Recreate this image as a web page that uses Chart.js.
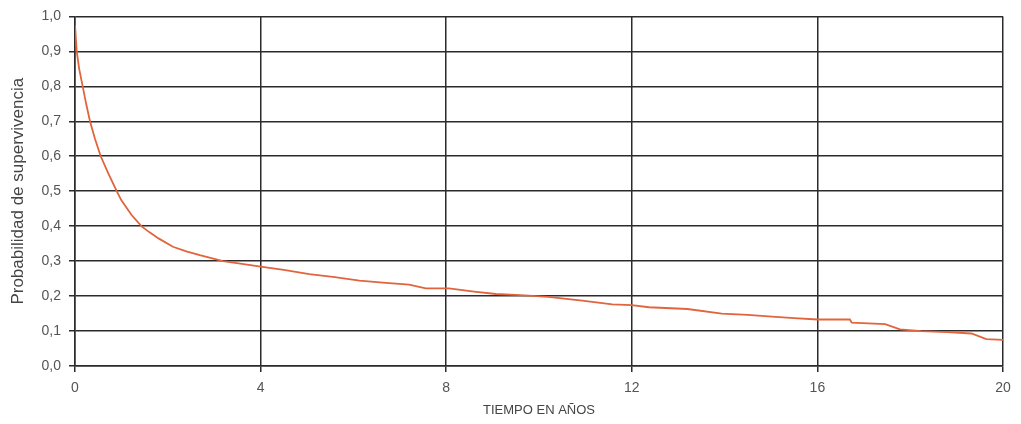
<!DOCTYPE html>
<html>
<head>
<meta charset="utf-8">
<script src="https://cdn.jsdelivr.net/npm/chart.js@4/dist/chart.umd.min.js"></script>
<style>
  html, body { margin: 0; padding: 0; background: #ffffff; }
  #wrap { width: 1021px; height: 424px; position: relative; }
</style>
</head>
<body>
<div id="wrap"><canvas id="c"></canvas></div>
<script>
// Survival curve: time in years and survival probability
const years = [0, 0.037, 0.09, 0.166, 0.24, 0.323, 0.43, 0.554, 0.72, 0.899, 1.0, 1.1, 1.22, 1.43, 1.6, 1.8, 2.11, 2.4, 2.69, 3.19, 3.6, 4.0, 4.5, 5.05, 5.6, 6.13, 6.7, 7.2, 7.56, 8.06, 8.6, 9.07, 9.6, 10.2, 10.93, 11.58, 12.0, 12.37, 13.2, 13.94, 14.5, 15.02, 15.5, 16.0, 16.7, 16.74, 17.46, 17.78, 18.24, 18.8, 19.32, 19.64, 20.0];
const survival = [0.975, 0.9, 0.85, 0.8, 0.75, 0.7, 0.65, 0.6, 0.55, 0.5, 0.474, 0.455, 0.432, 0.4, 0.383, 0.365, 0.341, 0.328, 0.317, 0.3, 0.292, 0.284, 0.275, 0.263, 0.254, 0.244, 0.238, 0.233, 0.222, 0.222, 0.213, 0.206, 0.203, 0.198, 0.187, 0.176, 0.174, 0.168, 0.163, 0.15, 0.146, 0.141, 0.137, 0.133, 0.133, 0.124, 0.12, 0.105, 0.1, 0.097, 0.093, 0.077, 0.075];
const xTicks = [0, 4, 8, 12, 16, 20];
const yTitle = 'Probabilidad de supervivencia';
const xTitle = 'TIEMPO EN AÑOS';

const points = years.map((t, i) => ({ x: t, y: survival[i] }));
const gridColor = '#2b2b2b';
const labelColor = '#555555';
const fontFamily = 'Liberation Sans, Arial, sans-serif';

new Chart(document.getElementById('c'), {
  type: 'line',
  data: {
    datasets: [{
      data: points,
      borderColor: '#e2643c',
      borderWidth: 1.8,
      pointRadius: 0,
      tension: 0,
      fill: false
    }]
  },
  options: {
    responsive: true,
    maintainAspectRatio: false,
    animation: false,
    layout: { padding: { top: 16, right: 18, left: 0, bottom: 0 } },
    plugins: { legend: { display: false }, tooltip: { enabled: false } },
    scales: {
      x: {
        type: 'linear',
        min: 0,
        max: 20,
        afterBuildTicks: s => { s.ticks = xTicks.map(v => ({ value: v })); },
        afterFit: s => { s.height = 58; },
        grid: { color: gridColor, lineWidth: 1.5, tickLength: 6, drawTicks: true },
        border: { color: gridColor, width: 1.5 },
        ticks: {
          color: labelColor,
          font: { family: fontFamily, size: 14 },
          padding: 8,
          maxRotation: 0
        },
        title: {
          display: true,
          text: xTitle,
          color: '#444444',
          font: { family: fontFamily, size: 13 },
          padding: { top: 0, bottom: 6 }
        }
      },
      y: {
        type: 'linear',
        min: 0,
        max: 1,
        ticks: {
          stepSize: 0.1,
          color: labelColor,
          font: { family: fontFamily, size: 14 },
          padding: 8,
          callback: v => v.toFixed(1).replace('.', ',')
        },
        afterFit: s => { s.width = 75; },
        grid: { color: gridColor, lineWidth: 1.5, tickLength: 6 },
        border: { color: gridColor, width: 1.5 },
        title: {
          display: true,
          text: yTitle,
          color: '#444444',
          font: { family: fontFamily, size: 17 },
          padding: { top: 8, bottom: 0 }
        }
      }
    }
  }
});
</script>
</body>
</html>
